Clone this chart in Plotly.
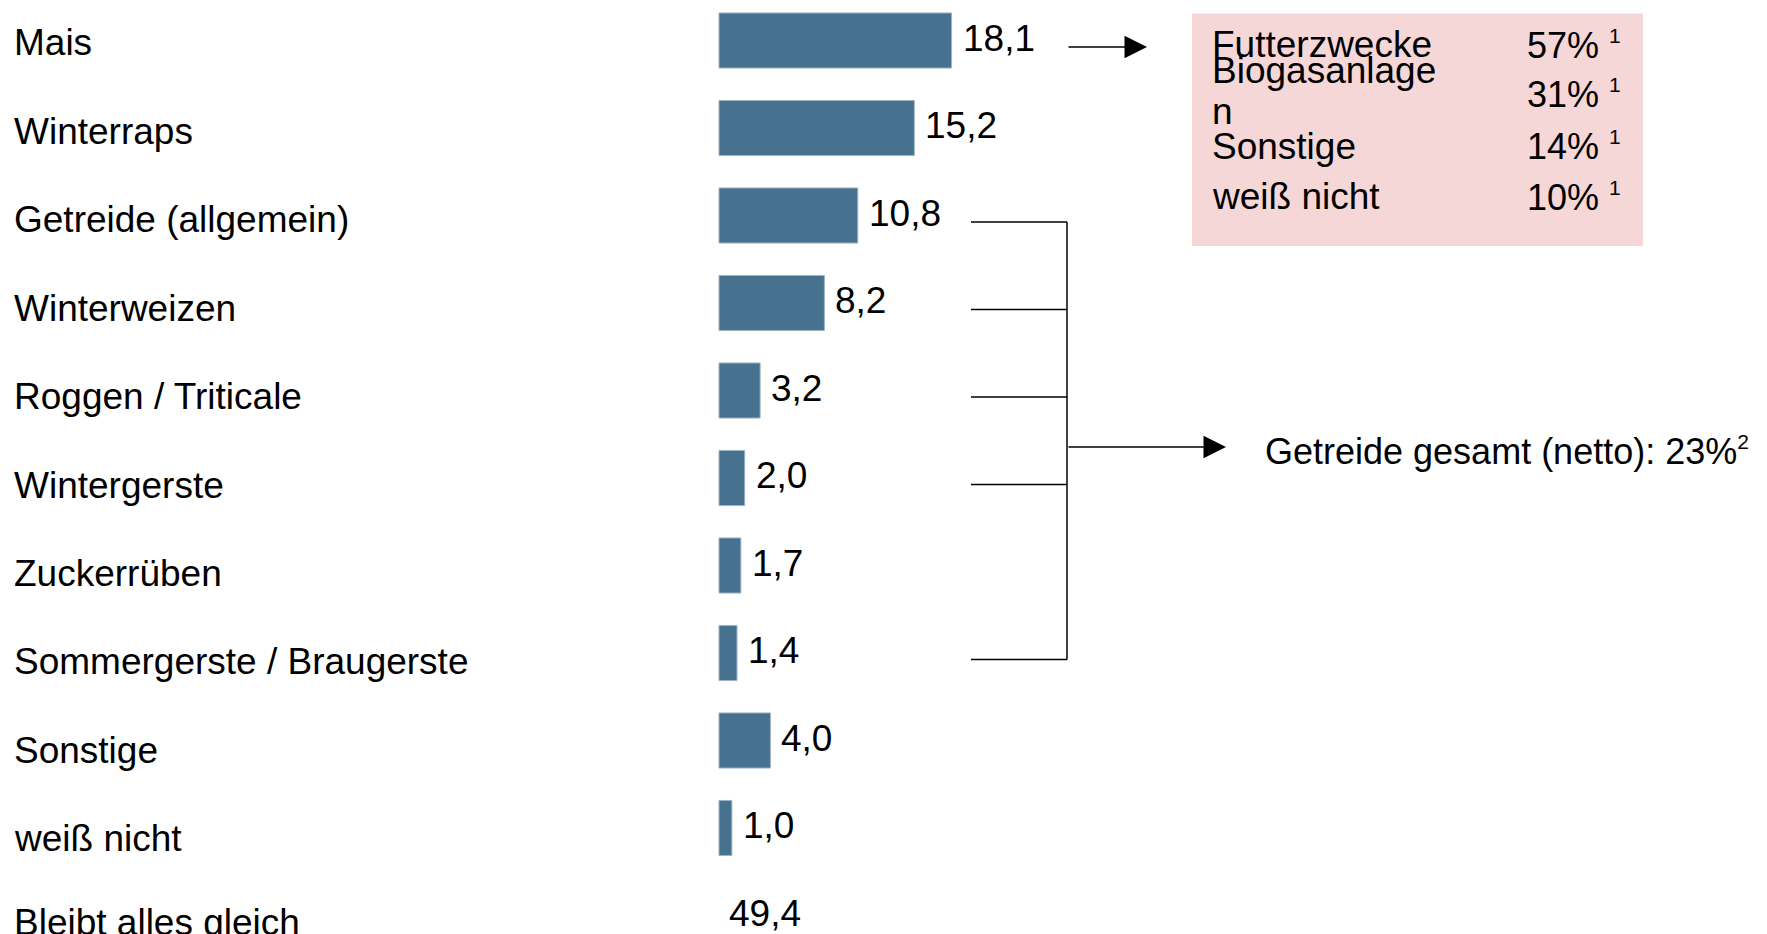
import plotly.graph_objects as go

# ---------------- data ----------------
crops = ["Mais", "Winterraps", "Getreide (allgemein)", "Winterweizen",
         "Roggen / Triticale", "Wintergerste", "Zuckerrüben",
         "Sommergerste / Braugerste", "Sonstige", "weiß nicht",
         "Bleibt alles gleich"]
values = [18.1, 15.2, 10.8, 8.2, 3.2, 2.0, 1.7, 1.4, 4.0, 1.0, 49.4]
has_bar = [True, True, True, True, True, True, True, True, True, True, False]

cereal_rows = ["Getreide (allgemein)", "Winterweizen", "Roggen / Triticale",
               "Wintergerste", "Sommergerste / Braugerste"]
cereal_total_label = "Getreide gesamt (netto): 23%"

mais_use_labels = ["Futterzwecke", "Biogasanlage", "Sonstige", "weiß nicht"]
mais_use_values = ["57%", "31%", "14%", "10%"]

# ---------------- layout constants (pixels, page coordinates) ----------------
W, H = 1767, 934
OX, OY = 8, 8          # page body margin
FONT = "Liberation Sans, Arial, sans-serif"
BAR_COLOR = "#46718f"
PINK = "#f6d7d8"
FS = 37

x0_px = 719.0 - OX     # bar origin in figure px
x_scale = 12.85        # px per unit
row0_px = 40.5 - OY    # centre of first row in figure px
row_h = 87.5           # px per row

xr = [-x0_px / x_scale, (W - x0_px) / x_scale]
yr = [(H - row0_px) / row_h, -row0_px / row_h]


def px(p):
    return (p - OX) / W


def py(p):
    return 1 - (p - OY) / H


def sup(t):
    return f"<sup><span style='font-size:21px'>{t}</span></sup>"


fig = go.Figure()
fig.add_trace(go.Bar(
    x=[v if b else None for v, b in zip(values, has_bar)],
    y=crops,
    orientation="h",
    width=0.63,
    marker=dict(color=BAR_COLOR, line=dict(color="#9db3c6", width=1)),
    hoverinfo="skip",
))

ann = []
shapes = []

# category labels (slightly wider row pitch than the bars) + value labels
n_rows = len(crops)
for i, (c, v, b) in enumerate(zip(crops, values, has_bar)):
    label_px = min(43 + 88.4 * i, 922)
    ann.append(dict(xref="paper", yref="paper", x=px(12), y=py(label_px), text=c,
                    xanchor="left", yanchor="middle", showarrow=False,
                    font=dict(size=FS, family=FONT, color="black")))
    ann.append(dict(xref="x", yref="y", x=v if b else 0, y=i,
                    text=f"{v:.1f}".replace(".", ","),
                    xanchor="left", yanchor="middle", showarrow=False,
                    xshift=9 if b else 8, yshift=2.5,
                    font=dict(size=FS, family=FONT, color="black")))

# bracket for cereals
idx = [crops.index(c) for c in cereal_rows]
off = 6.5 / row_h
for i in idx:
    shapes.append(dict(type="line", xref="paper", yref="y",
                       x0=px(971), x1=px(1067), y0=i + off, y1=i + off,
                       line=dict(color="black", width=1.5)))
shapes.append(dict(type="line", xref="paper", yref="y",
                   x0=px(1067), x1=px(1067), y0=idx[0] + off, y1=idx[-1] + off,
                   line=dict(color="black", width=1.5)))
# arrow to cereal total
ann.append(dict(xref="paper", yref="paper", x=px(1226), y=py(447),
                ax=-(1226 - 1067), ay=0, axref="pixel", ayref="pixel",
                text="", showarrow=True, arrowhead=2, arrowsize=3,
                arrowwidth=1.5, arrowcolor="black"))
ann.append(dict(xref="paper", yref="paper", x=px(1263), y=py(451),
                text=cereal_total_label + sup("2"), xanchor="left",
                yanchor="middle", showarrow=False,
                font=dict(size=36, family=FONT, color="black")))

# arrow from Mais to box
ann.append(dict(xref="paper", yref="paper", x=px(1147), y=py(47),
                ax=-(1147 - 1067), ay=0, axref="pixel", ayref="pixel",
                text="", showarrow=True, arrowhead=2, arrowsize=3,
                arrowwidth=1.5, arrowcolor="black"))

# pink box
shapes.append(dict(type="rect", xref="paper", yref="paper",
                   x0=px(1192), x1=px(1643), y0=py(13.5), y1=py(246),
                   fillcolor=PINK, line=dict(width=0), layer="below"))

label_y = [45, 70, 146, 197]
value_y = [45, 94, 146, 197]
for lab, val, ly, vy in zip(mais_use_labels, mais_use_values, label_y, value_y):
    ann.append(dict(xref="paper", yref="paper", x=px(1210), y=py(ly), text=lab,
                    xanchor="left", yanchor="middle", showarrow=False,
                    font=dict(size=FS, family=FONT, color="black")))
    ann.append(dict(xref="paper", yref="paper", x=px(1525), y=py(vy),
                    text=val + " " + sup("1"),
                    xanchor="left", yanchor="middle", showarrow=False,
                    font=dict(size=36, family=FONT, color="black")))
# wrapped final letter of "Biogasanlagen"
ann.append(dict(xref="paper", yref="paper", x=px(1210), y=py(112), text="n",
                xanchor="left", yanchor="middle", showarrow=False,
                font=dict(size=FS, family=FONT, color="black")))

fig.update_layout(
    width=W, height=H,
    margin=dict(l=0, r=0, t=0, b=0),
    paper_bgcolor="white", plot_bgcolor="white",
    showlegend=False,
    xaxis=dict(range=xr, visible=False, fixedrange=True),
    yaxis=dict(type="category", categoryorder="array", categoryarray=crops,
               range=yr, visible=False, fixedrange=True),
    annotations=ann, shapes=shapes,
)

fig.write_html("out.html", config={"displayModeBar": False})
